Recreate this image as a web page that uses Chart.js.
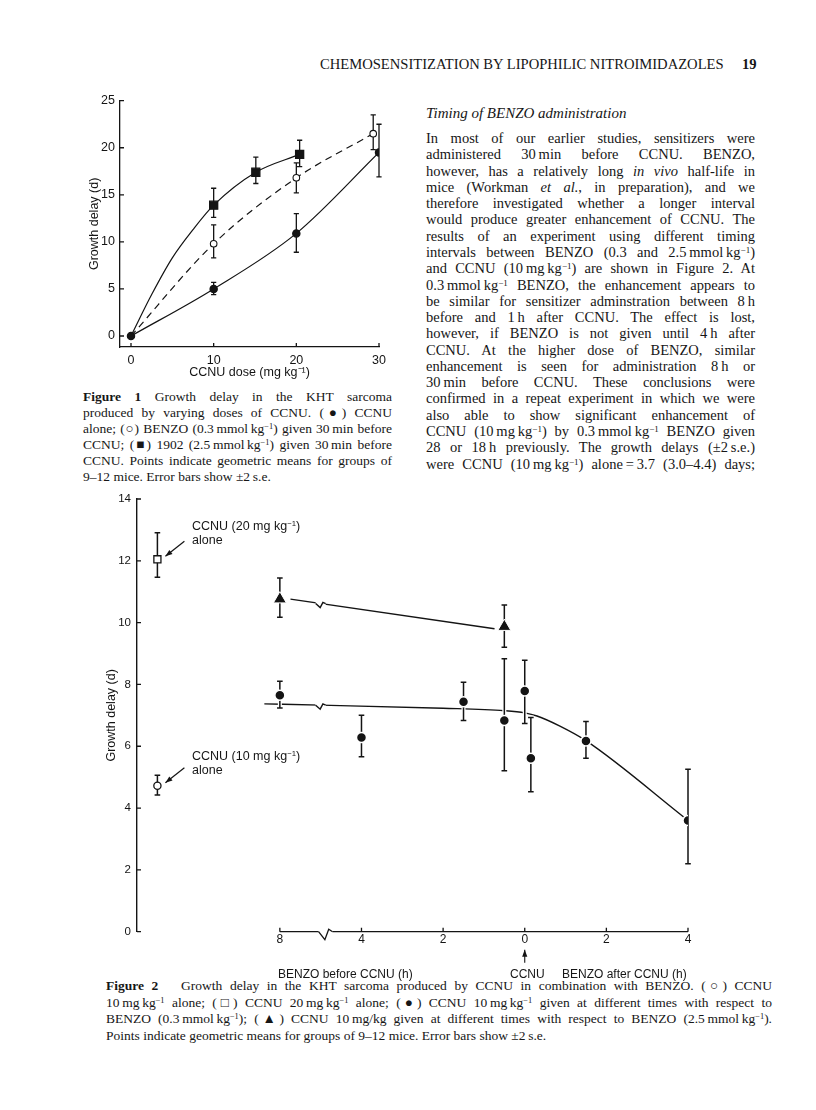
<!DOCTYPE html>
<html>
<head>
<meta charset="utf-8">
<script src="https://cdn.jsdelivr.net/npm/chart.js@4.4.0/dist/chart.umd.min.js"></script>
<style>
html, body { margin: 0; padding: 0; background: #fff; }
body { width: 816px; height: 1110px; position: relative; overflow: hidden;
  font-family: 'Liberation Serif', 'Times New Roman', serif; color: #161616; }
.t { position: absolute; white-space: nowrap; }
.j { position: absolute; text-align: justify; text-align-last: justify; }
.sans { font-family: 'Liberation Sans', Arial, sans-serif; }
sup { font-size: 0.62em; vertical-align: 0.5em; line-height: 0; }
canvas { position: absolute; }
</style>
</head>
<body>

<div class="t" style="left:320px;top:56px;font-size:14.6px;line-height:17px">CHEMOSENSITIZATION BY LIPOPHILIC NITROIMIDAZOLES</div>
<div class="t" style="left:742px;top:56px;font-size:14.6px;line-height:17px;font-weight:bold">19</div>
<div class="t" style="left:426px;top:104px;font-size:15px;line-height:18px;font-style:italic">Timing of BENZO administration</div>

<div id="body"></div>
<div id="cap1"></div>
<div id="cap2"></div>

<canvas id="fig1" width="340" height="310" style="left:60px;top:80px"></canvas>
<canvas id="fig2" width="720" height="500" style="left:60px;top:480px"></canvas>

<div class="t sans" style="left:192px;top:519px;font-size:12.5px;line-height:14px">CCNU (20 mg kg<sup>−1</sup>)</div>
<div class="t sans" style="left:192px;top:533px;font-size:12.5px;line-height:14px">alone</div>
<div class="t sans" style="left:192px;top:749px;font-size:12.5px;line-height:14px">CCNU (10 mg kg<sup>−1</sup>)</div>
<div class="t sans" style="left:192px;top:763px;font-size:12.5px;line-height:14px">alone</div>
<div class="t sans" style="left:278px;top:967px;font-size:12px;line-height:15px">BENZO before CCNU (h)</div>
<div class="t sans" style="left:510px;top:967px;font-size:12px;line-height:15px">CCNU</div>
<div class="t sans" style="left:562px;top:967px;font-size:12px;line-height:15px">BENZO after CCNU (h)</div>

<script>
// ---------- Figure 1: growth delay vs CCNU dose ----------
var f1XTicks = [0, 10, 20, 30];
var f1YTicks = [0, 5, 10, 15, 20, 25];

// CCNU alone (filled circles)
var aloneDose  = [0, 10, 20, 30];
var aloneDelay = [0, 5.0, 10.9, 19.5];
var aloneLow   = [null, 4.4, 8.9, 16.9];
var aloneHigh  = [null, 5.7, 13.0, 22.5];

// BENZO 0.3 mmol/kg (open circles, dashed)
var benzoDose  = [0, 10, 20, 29.3];
var benzoDelay = [0, 9.8, 16.8, 21.5];
var benzoLow   = [null, 8.3, 15.2, 19.8];
var benzoHigh  = [null, 11.8, 18.4, 23.5];

// 1902 2.5 mmol/kg (filled squares)
var r1902Dose  = [10, 15.1, 20.4];
var r1902Delay = [13.9, 17.4, 19.3];
var r1902Low   = [12.6, 16.2, 18.0];
var r1902High  = [15.7, 19.0, 20.8];
// the hand-drawn curve through the squares
var r1902CurveDose  = [0, 2.5, 5, 7.5, 10, 15.1, 20.4];
var r1902CurveDelay = [0, 4.4, 8.3, 11.3, 13.9, 17.4, 19.3];

// ---------- Figure 2: timing of BENZO ----------
// broken time axis: negative = BENZO before CCNU, 8 h sits at -6 beyond the break
var f2TickPos    = [-6, -4, -2, 0, 2, 4];
var f2TickLabels = ['8', '4', '2', '0', '2', '4'];
var f2YTicks     = [0, 2, 4, 6, 8, 10, 12, 14];

// CCNU 10 mg/kg + BENZO 0.3 mmol/kg (filled circles)
var lowTime  = [-6, -4, -1.5, -0.5, 0, 0.15, 1.5, 4];
var lowDelay = [7.65, 6.28, 7.44, 6.83, 7.79, 5.61, 6.17, 3.6];
var lowLow   = [7.24, 5.66, 6.83, 5.21, 6.74, 4.53, 5.61, 2.2];
var lowHigh  = [8.1, 7.0, 8.07, 8.83, 8.78, 6.93, 6.8, 5.26];
var lowFitTime  = [-6.38, -5, -2, -0.5, 0, 0.3, 0.85, 1.5, 4];
var lowFitDelay = [7.37, 7.33, 7.23, 7.15, 7.08, 6.98, 6.66, 6.18, 3.6];

// CCNU 10 mg/kg + BENZO 2.5 mmol/kg (triangles)
var highTime  = [-6, -0.5];
var highDelay = [10.76, 9.87];
var highLow   = [10.17, 9.2];
var highHigh  = [11.44, 10.57];
var highFitTime  = [-5.74, -0.74];
var highFitDelay = [10.76, 9.8];

// controls, CCNU alone
var ctrlTime = [-9];
var ccnu20Delay = [12.05], ccnu20Low = [11.47], ccnu20High = [12.91];
var ccnu10Delay = [4.72],  ccnu10Low = [4.42],  ccnu10High = [5.06];

var INK = '#141414';
var SANS = "'Liberation Sans', Arial, sans-serif";

// ---------- text ----------
var bodyLines = [
  'In most of our earlier studies, sensitizers were',
  'administered 30\u2009min before CCNU. BENZO,',
  'however, has a relatively long <i>in vivo</i> half-life in',
  'mice (Workman <i>et al.</i>, in preparation), and we',
  'therefore investigated whether a longer interval',
  'would produce greater enhancement of CCNU. The',
  'results of an experiment using different timing',
  'intervals between BENZO (0.3 and 2.5\u2009mmol\u2009kg<sup>\u22121</sup>)',
  'and CCNU (10\u2009mg\u2009kg<sup>\u22121</sup>) are shown in Figure 2. At',
  '0.3\u2009mmol\u2009kg<sup>\u22121</sup> BENZO, the enhancement appears to',
  'be similar for sensitizer adminstration between 8\u2009h',
  'before and 1\u2009h after CCNU. The effect is lost,',
  'however, if BENZO is not given until 4\u2009h after',
  'CCNU. At the higher dose of BENZO, similar',
  'enhancement is seen for administration 8\u2009h or',
  '30\u2009min before CCNU. These conclusions were',
  'confirmed in a repeat experiment in which we were',
  'also able to show significant enhancement of',
  'CCNU (10\u2009mg\u2009kg<sup>\u22121</sup>) by 0.3\u2009mmol\u2009kg<sup>\u22121</sup> BENZO given',
  '28 or 18\u2009h previously. The growth delays (\u00b12\u2009s.e.)',
  'were CCNU (10\u2009mg\u2009kg<sup>\u22121</sup>) alone\u2009=\u20093.7 (3.0\u20134.4) days;'
];
var cap1Lines = [
  '<b>Figure 1</b> Growth delay in the KHT sarcoma',
  'produced by varying doses of CCNU. (\u25cf) CCNU',
  'alone; (\u25cb) BENZO (0.3\u2009mmol\u2009kg<sup>\u22121</sup>) given 30\u2009min before',
  'CCNU; (\u25a0) 1902 (2.5\u2009mmol\u2009kg<sup>\u22121</sup>) given 30\u2009min before',
  'CCNU. Points indicate geometric means for groups of',
  '9\u201312 mice. Error bars show \u00b12\u2009s.e.'
];
var cap2Lines = [
  '<b>Figure 2</b>&nbsp;&nbsp; Growth delay in the KHT sarcoma produced by CCNU in combination with BENZO. (\u25cb) CCNU',
  '10\u2009mg\u2009kg<sup>\u22121</sup> alone; (\u25a1) CCNU 20\u2009mg\u2009kg<sup>\u22121</sup> alone; (\u25cf) CCNU 10\u2009mg\u2009kg<sup>\u22121</sup> given at different times with respect to',
  'BENZO (0.3\u2009mmol\u2009kg<sup>\u22121</sup>); (\u25b2) CCNU 10\u2009mg/kg given at different times with respect to BENZO (2.5\u2009mmol\u2009kg<sup>\u22121</sup>).',
  'Points indicate geometric means for groups of 9\u201312 mice. Error bars show \u00b12\u2009s.e.'
];

function placeLines(id, lines, left, width, top, step, size, lastRagged) {
  var box = document.getElementById(id);
  for (var i = 0; i < lines.length; i++) {
    var d = document.createElement('div');
    var ragged = lastRagged && i == lines.length - 1;
    d.className = ragged ? 't' : 'j';
    d.style.left = left + 'px';
    d.style.top = (top + i * step) + 'px';
    if (!ragged) d.style.width = width + 'px';
    d.style.fontSize = size + 'px';
    d.style.lineHeight = '16px';
    d.style.whiteSpace = 'nowrap';
    d.innerHTML = lines[i];
    box.appendChild(d);
  }
}
placeLines('body', bodyLines, 426, 329, 130, 16.28, 14.5, false);
placeLines('cap1', cap1Lines, 83, 309, 389, 16, 13.5, true);
placeLines('cap2', cap2Lines, 106, 666, 978, 16.5, 13.5, true);

// ---------- helpers ----------
function pts(xs, ys) {
  var out = [];
  for (var i = 0; i < xs.length; i++) out.push({x: xs[i], y: ys[i]});
  return out;
}
function fixedTicks(list) {
  return function(scale) { scale.ticks = list.map(function(v) { return {value: v}; }); };
}

// error bars drawn just before each marker set
var errorBars = {
  id: 'errorBars',
  beforeDatasetDraw: function(chart, args, opts) {
    var ds = chart.data.datasets[args.index];
    if (!ds.errLow) return;
    var ctx = chart.ctx, ys = chart.scales.y, cap = opts.cap;
    ctx.save();
    args.meta.data.forEach(function(pt, i) {
      if (ds.errLow[i] == null) return;
      var x = pt.x, y1 = ys.getPixelForValue(ds.errLow[i]), y2 = ys.getPixelForValue(ds.errHigh[i]);
      function path() {
        ctx.beginPath();
        ctx.moveTo(x, y1); ctx.lineTo(x, y2);
        ctx.moveTo(x - cap, y1); ctx.lineTo(x + cap, y1);
        ctx.moveTo(x - cap, y2); ctx.lineTo(x + cap, y2);
      }
      if (opts.halo) { ctx.strokeStyle = '#fff'; ctx.lineWidth = opts.halo; path(); ctx.stroke(); }
      ctx.strokeStyle = INK; ctx.lineWidth = opts.width; path(); ctx.stroke();
    });
    ctx.restore();
  }
};

function arrow(ctx, x1, y1, x2, y2) {
  var a = Math.atan2(y2 - y1, x2 - x1);
  ctx.beginPath(); ctx.moveTo(x1, y1); ctx.lineTo(x2, y2); ctx.stroke();
  ctx.beginPath();
  ctx.moveTo(x2, y2);
  ctx.lineTo(x2 - 7 * Math.cos(a) + 2.6 * Math.sin(a), y2 - 7 * Math.sin(a) - 2.6 * Math.cos(a));
  ctx.lineTo(x2 - 7 * Math.cos(a) - 2.6 * Math.sin(a), y2 - 7 * Math.sin(a) + 2.6 * Math.cos(a));
  ctx.closePath(); ctx.fill();
}

function zigzag(ctx, x, y, w, depth) {
  ctx.fillStyle = '#fff';
  ctx.fillRect(x - w, y - depth, w * 2, depth * 2 + 1);
  ctx.fillStyle = INK;
  ctx.beginPath();
  ctx.moveTo(x - w, y);
  ctx.lineTo(x - w * 0.1, y + depth);
  ctx.lineTo(x + w * 0.45, y - depth * 0.3);
  ctx.lineTo(x + w, y);
  ctx.stroke();
}

// inward tick marks, plus the broken time axis of figure 2
var axisMarks = {
  id: 'axisMarks',
  afterDraw: function(chart, args, o) {
    var ctx = chart.ctx, xs = chart.scales.x, ys = chart.scales.y, area = chart.chartArea;
    ctx.save();
    ctx.strokeStyle = INK; ctx.fillStyle = INK; ctx.lineWidth = 1.3;
    ctx.beginPath();
    ys.ticks.forEach(function(t) {
      var y = ys.getPixelForValue(t.value);
      ctx.moveTo(area.left, y); ctx.lineTo(area.left + o.len, y);
    });
    var base = o.broken ? ys.getPixelForValue(0) : area.bottom;
    xs.ticks.forEach(function(t) {
      var x = xs.getPixelForValue(t.value);
      ctx.moveTo(x, base); ctx.lineTo(x, base - o.len);
    });
    ctx.stroke();
    if (o.broken) {
      var first = xs.getPixelForValue(xs.ticks[0].value);
      var last = xs.getPixelForValue(xs.ticks[xs.ticks.length - 1].value);
      ctx.beginPath(); ctx.moveTo(first, base); ctx.lineTo(last, base); ctx.stroke();
      zigzag(ctx, xs.getPixelForValue(o.breakAt), base, 7, 8);
      // CCNU arrow under the zero tick
      var x0 = xs.getPixelForValue(0);
      ctx.lineWidth = 1.1;
      arrow(ctx, x0, base + 31, x0, base + 18);
      // breaks on the fitted lines
      chart.data.datasets.forEach(function(ds, i) {
        if (!ds.fit) return;
        var meta = chart.getDatasetMeta(i), xb = xs.getPixelForValue(o.lineBreakAt);
        for (var k = 0; k < meta.data.length - 1; k++) {
          var p = meta.data[k], q = meta.data[k + 1];
          if (p.x <= xb && q.x >= xb) {
            var yb = p.y + (q.y - p.y) * (xb - p.x) / (q.x - p.x);
            ctx.lineWidth = 1.4;
            zigzag(ctx, xb, yb, 5, 4);
          }
        }
      });
      // arrows pointing at the control points
      ctx.lineWidth = 1.2;
      chart.data.datasets.forEach(function(ds, i) {
        if (!ds.pointer) return;
        var p = chart.getDatasetMeta(i).data[0];
        arrow(ctx, p.x + 27, p.y - 18, p.x + 8, p.y - 3);
      });
    }
    ctx.restore();
  }
};

function marker(label, xs, ys, lo, hi, style, radius, fill, extra) {
  var ds = {
    label: label, data: pts(xs, ys), errLow: lo, errHigh: hi,
    pointStyle: style, pointRadius: radius, pointBackgroundColor: fill,
    pointBorderColor: INK, pointBorderWidth: 1.3, showLine: false, order: 1
  };
  for (var k in extra) ds[k] = extra[k];
  return ds;
}

// ---------- Figure 1 ----------
new Chart(document.getElementById('fig1'), {
  type: 'scatter',
  data: {
    datasets: [
      marker('1902', r1902Dose, r1902Delay, r1902Low, r1902High, 'rect', 5.7, INK, {}),
      {label: '1902 curve', data: pts(r1902CurveDose, r1902CurveDelay), showLine: true, pointRadius: 0,
        borderColor: INK, borderWidth: 1.2, cubicInterpolationMode: 'monotone', order: 3},
      marker('BENZO', benzoDose, benzoDelay, benzoLow, benzoHigh, 'circle', [0, 3.3, 3.3, 3.3], '#fff',
        {showLine: true, borderColor: INK, borderWidth: 1.2, borderDash: [7, 5], cubicInterpolationMode: 'monotone', pointBorderWidth: 1.1}),
      marker('CCNU alone', aloneDose, aloneDelay, aloneLow, aloneHigh, 'circle', 3.6, INK,
        {showLine: true, borderColor: INK, borderWidth: 1.2, cubicInterpolationMode: 'monotone'})
    ]
  },
  options: {
    responsive: false, animation: false, events: [],
    layout: {padding: {top: 20.7, right: 21, left: 0, bottom: 0}},
    plugins: {legend: {display: false}, tooltip: {enabled: false},
      errorBars: {cap: 2.6, width: 1.3, halo: 0}, axisMarks: {len: 4, broken: false}},
    scales: {
      x: {
        type: 'linear', min: -1.33, max: 30,
        afterBuildTicks: fixedTicks(f1XTicks), afterFit: function(s) { s.height = 43; },
        grid: {display: false, drawTicks: false}, border: {color: INK, width: 1.3},
        ticks: {color: INK, font: {family: SANS, size: 12.5}, padding: 6, autoSkip: false, maxRotation: 0},
        title: {display: true, text: 'CCNU dose (mg kg\u207b\u00b9)', color: INK,
          font: {family: SANS, size: 12.5}, padding: {top: 0, bottom: 9.5}}
      },
      y: {
        type: 'linear', min: -1.17, max: 25,
        afterBuildTicks: fixedTicks(f1YTicks), afterFit: function(s) { s.width = 60; },
        grid: {display: false, drawTicks: false}, border: {color: INK, width: 1.3},
        ticks: {color: INK, font: {family: SANS, size: 12.5}, padding: 5, autoSkip: false},
        title: {display: true, text: 'Growth delay (d)', color: INK,
          font: {family: SANS, size: 12.5}, padding: {top: 27.5, bottom: 0}}
      }
    }
  },
  plugins: [errorBars, axisMarks]
});

// ---------- Figure 2 ----------
new Chart(document.getElementById('fig2'), {
  type: 'scatter',
  data: {
    datasets: [
      marker('CCNU 20 alone', ctrlTime, ccnu20Delay, ccnu20Low, ccnu20High, 'rect', 5, '#fff', {pointer: true}),
      marker('CCNU 10 alone', ctrlTime, ccnu10Delay, ccnu10Low, ccnu10High, 'circle', 3.6, '#fff', {pointer: true}),
      marker('BENZO 2.5', highTime, highDelay, highLow, highHigh, 'triangle', 7.5, INK, {pointBorderColor: '#fff', pointBorderWidth: 1}),
      marker('BENZO 0.3', lowTime, lowDelay, lowLow, lowHigh, 'circle', 5, INK, {pointBorderColor: '#fff', pointBorderWidth: 1.5}),
      {label: 'fit 2.5', data: pts(highFitTime, highFitDelay), showLine: true, fit: true, pointRadius: 0,
        borderColor: INK, borderWidth: 1.4, order: 3},
      {label: 'fit 0.3', data: pts(lowFitTime, lowFitDelay), showLine: true, fit: true, pointRadius: 0,
        borderColor: INK, borderWidth: 1.4, cubicInterpolationMode: 'monotone', order: 3}
    ]
  },
  options: {
    responsive: false, animation: false, events: [],
    layout: {padding: {top: 19, right: 92, left: 0, bottom: 0}},
    plugins: {legend: {display: false}, tooltip: {enabled: false},
      errorBars: {cap: 2.8, width: 1.5, halo: 4},
      axisMarks: {len: 4, broken: true, breakAt: -4.88, lineBreakAt: -5.0}},
    scales: {
      x: {
        type: 'linear', min: -9.5, max: 4,
        afterBuildTicks: fixedTicks(f2TickPos), afterFit: function(s) { s.height = 48.3; },
        grid: {display: false, drawTicks: false}, border: {display: false},
        ticks: {color: INK, font: {family: SANS, size: 12}, padding: 1, autoSkip: false, maxRotation: 0,
          callback: function(v) { return f2TickLabels[f2TickPos.indexOf(v)]; }}
      },
      y: {
        type: 'linear', min: 0, max: 14,
        afterBuildTicks: fixedTicks(f2YTicks), afterFit: function(s) { s.width = 77; },
        grid: {display: false, drawTicks: false}, border: {color: INK, width: 1.4},
        ticks: {color: INK, font: {family: SANS, size: 11.5}, padding: 6, autoSkip: false},
        title: {display: true, text: 'Growth delay (d)', color: INK,
          font: {family: SANS, size: 12.5}, padding: {top: 44.5, bottom: 0}}
      }
    }
  },
  plugins: [errorBars, axisMarks]
});
</script>
</body>
</html>
